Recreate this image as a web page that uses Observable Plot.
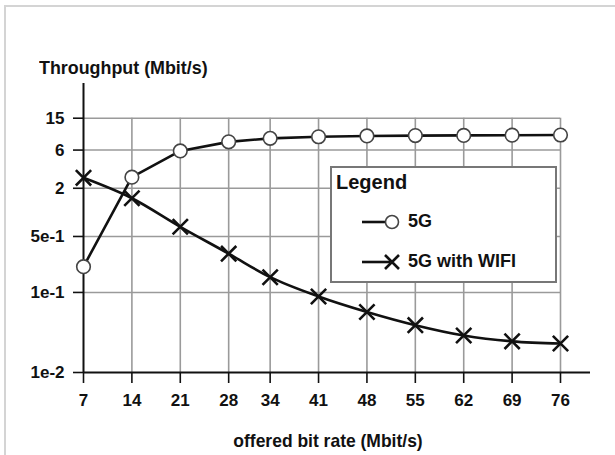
<!DOCTYPE html>
<html>
<head>
<meta charset="utf-8">
<script src="https://cdn.jsdelivr.net/npm/d3@7"></script>
<script src="https://cdn.jsdelivr.net/npm/@observablehq/plot@0.6"></script>
<style>
  html, body { margin: 0; padding: 0; background: #fff; }
  #wrap { position: relative; width: 615px; height: 455px; overflow: hidden;
    font-family: "Liberation Sans", Arial, sans-serif; font-weight: bold; color: #111; }
  #frame { position: absolute; left: 4px; top: 5px; width: 640px; height: 500px; border: 2px solid #d4d4d4; box-sizing: border-box; pointer-events: none; }
  .lbl { position: absolute; white-space: nowrap; }
  #legend { position: absolute; left: 330px; top: 166px; width: 227px; height: 117px; border: 2px solid #777; background: #fff; box-sizing: border-box; }
</style>
</head>
<body>
<div id="wrap">
  <div id="chart"></div>
  <div id="frame"></div>
  <div class="lbl" id="title" style="left:39px; top:57px; font-size:19px; transform: scaleX(0.94); transform-origin: left center;">Throughput (Mbit/s)</div>
  <div class="lbl" id="xlabel" style="left:0; width:656px; text-align:center; top:430px; font-size:19px; transform: scaleX(0.92); transform-origin: 328px center;">offered bit rate (Mbit/s)</div>
  <div id="legend"></div>
</div>
<script>
const rates = [7, 14, 21, 28, 34, 41, 48, 55, 62, 69, 76];
const throughput5G = [0.21, 2.75, 5.85, 7.6, 8.4, 8.8, 9.0, 9.1, 9.15, 9.2, 9.25];
const throughputWifi = [2.7, 1.5, 0.66, 0.305, 0.155, 0.089, 0.057, 0.039, 0.029, 0.0245, 0.023];
const yTicks = [0.01, 0.1, 0.5, 2, 6, 15];
const yTickLabels = ["1e-2", "1e-1", "5e-1", "2", "6", "15"];
const seriesNames = ["5G", "5G with WIFI"];

const d5g = rates.map((r, i) => ({rate: r, v: throughput5G[i]}));
const dwifi = rates.map((r, i) => ({rate: r, v: throughputWifi[i]}));
const yLabelData = yTicks.map((v, i) => ({v, label: yTickLabels[i]}));
const yMin = yTicks[0], yMax = 40.7;
const xMin = rates[0], xMax = rates[rates.length - 1], xAxisEnd = 80.34;

const plot = Plot.plot({
  width: 615,
  height: 455,
  marginLeft: 83,
  marginRight: 25,
  marginTop: 83,
  marginBottom: 83,
  style: {fontFamily: '"Liberation Sans", Arial, sans-serif', fontSize: "17px", fontWeight: "bold", color: "#111", background: "transparent"},
  x: {domain: [xMin, xAxisEnd]},
  y: {type: "log", domain: [yMin, yMax]},
  marks: [
    Plot.ruleY(yTicks.slice(1), {x1: xMin, x2: xMax, stroke: "#9a9a9a", strokeWidth: 1.6}),
    Plot.ruleX(rates.slice(1), {y1: yMin, y2: yTicks[yTicks.length - 1], stroke: "#9a9a9a", strokeWidth: 1.6}),
    Plot.axisY({ticks: yTicks, tickFormat: null, text: null, tickSize: 10, strokeWidth: 1.6, label: null}),
    Plot.text(yLabelData, {x: xMin, y: "v", text: "label", textAnchor: "end", dx: -19, fill: "#111", fontSize: 17, fontWeight: "bold"}),
    Plot.axisX({ticks: rates, tickFormat: d => String(d), tickSize: 11, tickPadding: 10, strokeWidth: 1.6, label: null}),
    Plot.ruleX([xMin], {stroke: "#111", strokeWidth: 2}),
    Plot.ruleY([yMin], {stroke: "#111", strokeWidth: 2}),
    Plot.line(d5g, {x: "rate", y: "v", stroke: "#111", strokeWidth: 2.6}),
    Plot.line(dwifi, {x: "rate", y: "v", stroke: "#111", strokeWidth: 2.6, curve: "monotone-x"}),
    Plot.dot(d5g, {x: "rate", y: "v", r: 6.8, fill: "#fff", stroke: "#444", strokeWidth: 1.6}),
    Plot.dot(dwifi, {x: "rate", y: "v", r: 7, symbol: "times", stroke: "#111", strokeWidth: 2.6})
  ]
});
document.getElementById("chart").appendChild(plot);

// legend
const leg = d3.select("#legend");
leg.append("div").attr("class", "lbl").style("left", "4px").style("top", "3px").style("font-size", "20px").text("Legend");
const items = [
  {name: seriesNames[0], sym: "circle", top: 44},
  {name: seriesNames[1], sym: "times", top: 84}
];
items.forEach(it => {
  const s = leg.append("svg").attr("width", 50).attr("height", 20)
    .style("position", "absolute").style("left", "28px").style("top", (it.top) + "px");
  s.append("line").attr("x1", 2).attr("x2", 30).attr("y1", 10).attr("y2", 10).attr("stroke", "#111").attr("stroke-width", 2.6);
  if (it.sym === "circle") {
    s.append("circle").attr("cx", 32).attr("cy", 10).attr("r", 6.5).attr("fill", "#fff").attr("stroke", "#444").attr("stroke-width", 1.6);
  } else {
    s.append("path").attr("d", "M25,3L39,17M25,17L39,3").attr("stroke", "#111").attr("stroke-width", 2.6);
  }
  leg.append("div").attr("class", "lbl").style("left", "76px").style("top", (it.top - 1) + "px").style("font-size", "18px").text(it.name);
});
</script>
</body>
</html>
